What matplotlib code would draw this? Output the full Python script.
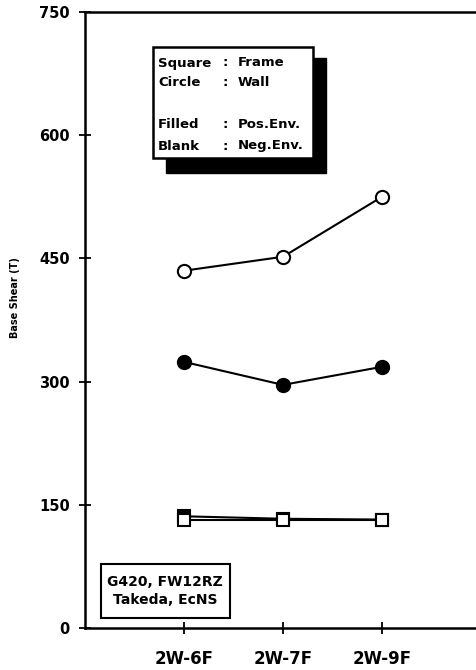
import numpy as np
import matplotlib
matplotlib.use('Agg')
import matplotlib.pyplot as plt
from matplotlib.patches import Rectangle

# data (base shear, T)
cases = ['2W-6F', '2W-7F', '2W-9F']
frame_pos = [136, 133, 132]   # filled square
frame_neg = [132, 132, 132]   # open square
wall_pos = [324, 296, 318]    # filled circle
wall_neg = [435, 452, 525]    # open circle
yticks = [0, 150, 300, 450, 600, 750]

plt.rcParams['font.family'] = 'DejaVu Sans'
plt.rcParams['font.weight'] = 'bold'

fig = plt.figure(figsize=(4.76, 6.7), dpi=100)
W, H = 476., 670.
ax = fig.add_axes([85 / W, 1 - 628 / H, 391 / W, 616 / H])

x = np.arange(1, len(cases) + 1)
mk = dict(color='black', lw=1.5, mew=1.5, mec='black')
ax.plot(x, frame_pos, marker='s', ms=9, mfc='black', **mk)
ax.plot(x, frame_neg, marker='s', ms=9, mfc='white', **mk)
ax.plot(x, wall_pos, marker='o', ms=9.5, mfc='black', **mk)
ax.plot(x, wall_neg, marker='o', ms=9.5, mfc='white', **mk)

ax.set_xlim(0, 391 / 99.)
ax.set_ylim(0, 750)
ax.set_xticks(x)
ax.set_xticklabels(cases, fontsize=12, fontweight='bold')
ax.set_yticks(yticks)
ax.set_yticklabels([str(v) for v in yticks], fontsize=10.5, fontweight='bold')
ax.tick_params(axis='both', direction='inout', length=8, width=1.3, color='black')
ax.tick_params(axis='y', pad=7)
ax.tick_params(axis='x', pad=12)
ax.spines['right'].set_visible(False)
for s in ['left', 'top', 'bottom']:
    ax.spines[s].set_linewidth(1.8)

fig.text(15 / W, 1 - 298 / H, 'Base Shear (T)', rotation=90, fontsize=7,
         fontweight='bold', ha='center', va='center')

# legend box with shadow
def px_rect(x0, y0, x1, y1, **kw):
    return Rectangle((x0 / W, 1 - y1 / H), (x1 - x0) / W, (y1 - y0) / H,
                     transform=fig.transFigure, **kw)

fig.patches.append(px_rect(166, 58, 326, 173, facecolor='black', edgecolor='black', zorder=5))
fig.patches.append(px_rect(153, 47, 313, 158, facecolor='white', edgecolor='black', lw=1.8, zorder=6))

rows = [('Square', 'Frame', 63), ('Circle', 'Wall', 83),
        ('Filled', 'Pos.Env.', 125), ('Blank', 'Neg.Env.', 146)]
for left, right, yy in rows:
    fig.text(158 / W, 1 - yy / H, left, fontsize=9.5, fontweight='bold', va='center', zorder=7)
    fig.text(223 / W, 1 - yy / H, ':', fontsize=9.5, fontweight='bold', va='center', zorder=7)
    fig.text(238 / W, 1 - yy / H, right, fontsize=9.5, fontweight='bold', va='center', zorder=7)

fig.patches.append(px_rect(101, 564, 230, 618, facecolor='white', edgecolor='black', lw=1.5, zorder=6))
fig.text(165 / W, 1 - 582 / H, 'G420, FW12RZ', fontsize=10, fontweight='bold',
         ha='center', va='center', zorder=7)
fig.text(165 / W, 1 - 600 / H, 'Takeda, EcNS', fontsize=10, fontweight='bold',
         ha='center', va='center', zorder=7)

fig.savefig('out.png', dpi=100)
